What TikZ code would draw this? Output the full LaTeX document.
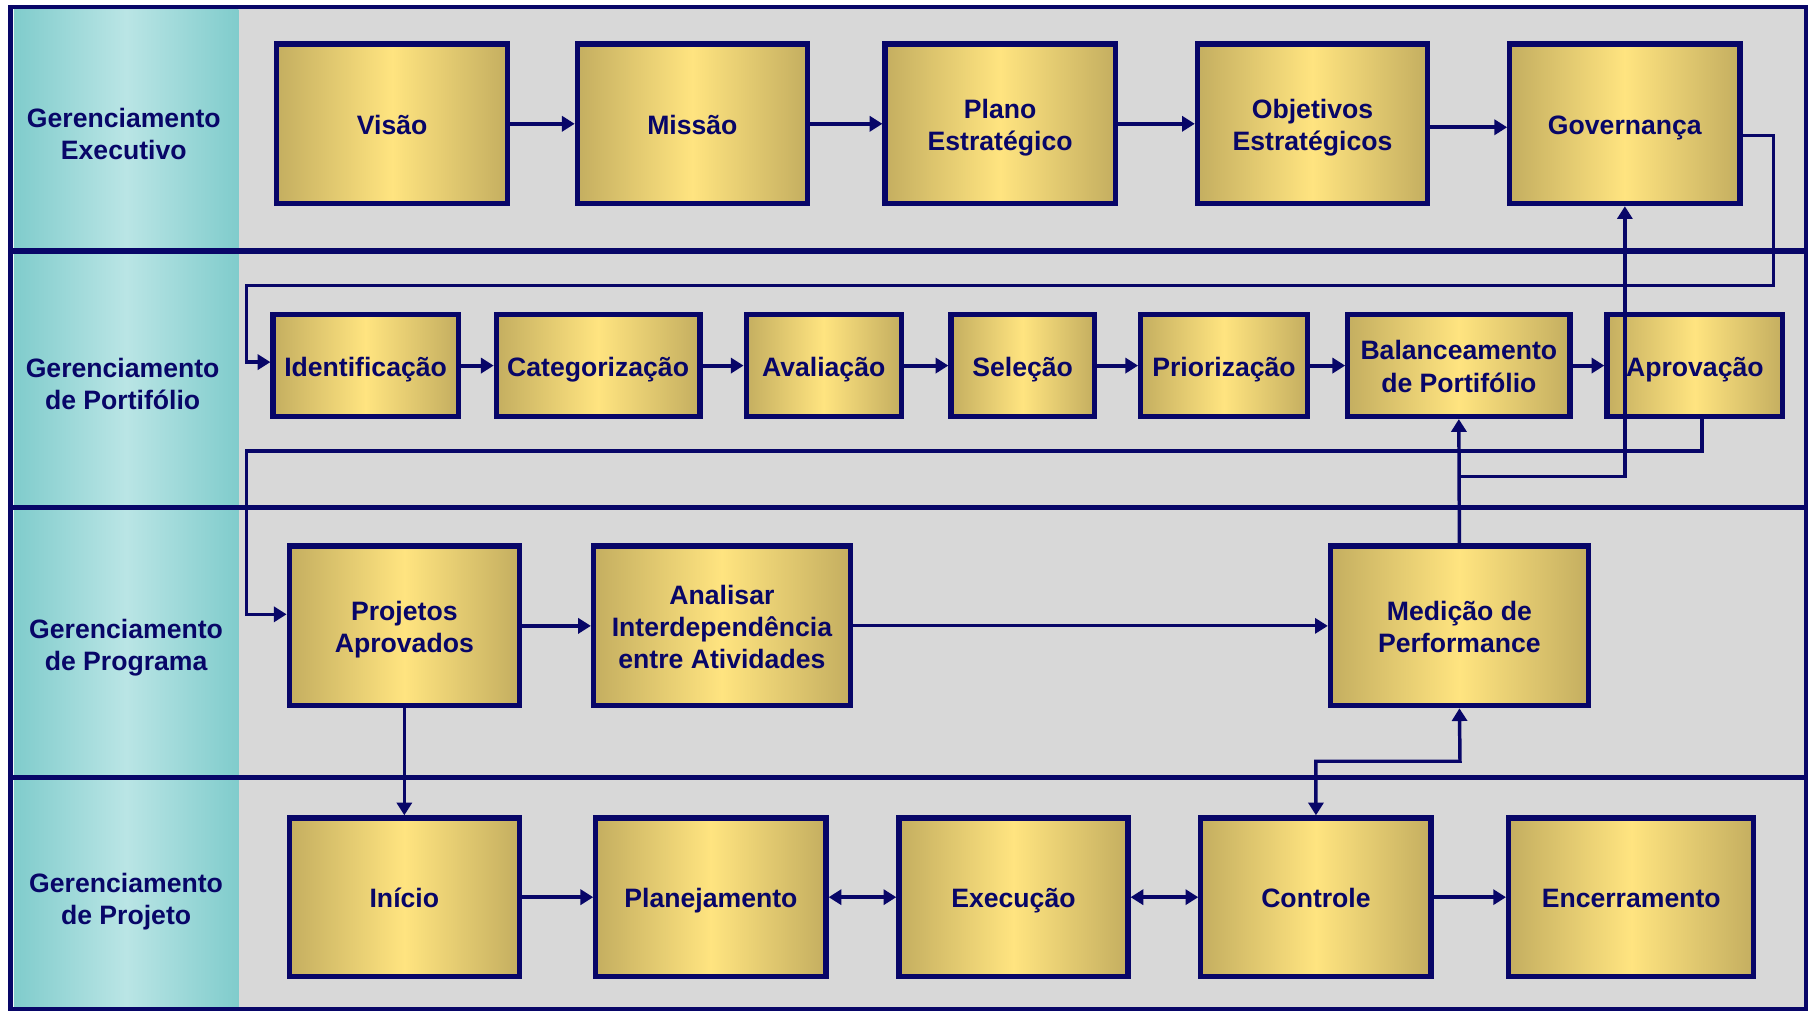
\documentclass[tikz,border=0pt]{standalone}
\usepackage{fontspec}
\setmainfont{Liberation Sans}
\usetikzlibrary{arrows.meta}

\definecolor{navy}{RGB}{8,6,104}
\definecolor{goldedge}{RGB}{196,174,96}
\definecolor{goldmid}{RGB}{255,228,128}
\definecolor{tealedge}{RGB}{128,204,204}
\definecolor{tealmid}{RGB}{186,229,229}
\definecolor{lanegray}{RGB}{216,216,216}

% box captions: uniform line struts, set a little below the geometric centre
\newcommand\boxcaption[1]{\raisebox{-3.5pt}[\height][\depth]{\begin{tabular}{@{}c@{}}#1\end{tabular}}}

\tikzset{
  stepbox/.style={draw=navy, line width=4.5pt, inner sep=0pt, align=center,
    text=navy, left color=goldedge, right color=goldedge, middle color=goldmid},
  lanelabel/.style={text=navy, align=center, inner sep=0pt},
  sep/.style={draw=navy, line width=4.5pt},
  conn/.style={draw=navy, line width=3.5pt, -{Triangle[length=11pt,width=13pt]}},
  biconn/.style={draw=navy, line width=3.5pt,
    {Triangle[length=11pt,width=13pt]}-{Triangle[length=11pt,width=13pt]}},
}

\begin{document}
\begin{tikzpicture}[x=1pt, y=-1pt, font=\bfseries\fontsize{23}{28}\selectfont]
\useasboundingbox (0,0) rectangle (1568,876);

% background: label column and lanes
\fill[lanegray] (206,8) rectangle (1561,872);
\shade[left color=tealedge, right color=tealedge, middle color=tealmid] (12,8) rectangle (206,872);

% outer frame and lane separators
\draw[navy, line width=4pt] (9,6) rectangle (1561,872);
\draw[sep] (11,217) -- (1563,217);
\draw[sep] (11,439) -- (1563,439);
\draw[sep] (11,672) -- (1563,672);

% lane labels
\node[lanelabel] (l1) at (107,116) {Gerenciamento\\Executivo};
\node[lanelabel] (l2) at (106,332) {Gerenciamento\\de Portifólio};
\node[lanelabel] (l3) at (109,560) {Gerenciamento\\de Programa};
\node[lanelabel] (l4) at (109,779.5) {Gerenciamento\\de Projeto};

% executive lane
\node[stepbox, minimum width=200pt, minimum height=138pt] (vis) at (339,107) {\boxcaption{Visão}};
\node[stepbox, minimum width=199pt, minimum height=138pt] (mis) at (598.5,107) {\boxcaption{Missão}};
\node[stepbox, minimum width=199pt, minimum height=138pt] (pla) at (864.5,107) {\boxcaption{Plano\\Estratégico}};
\node[stepbox, minimum width=199pt, minimum height=138pt] (obj) at (1134.5,107) {\boxcaption{Objetivos\\Estratégicos}};
\node[stepbox, minimum width=199pt, minimum height=138pt] (gov) at (1404.5,107) {\boxcaption{Governança}};

% portfolio lane
\node[stepbox, minimum width=160pt, minimum height=88pt] (ide) at (316,316) {\boxcaption{Identificação}};
\node[stepbox, minimum width=176pt, minimum height=88pt] (cat) at (517,316) {\boxcaption{Categorização}};
\node[stepbox, minimum width=134pt, minimum height=88pt] (ava) at (712,316) {\boxcaption{Avaliação}};
\node[stepbox, minimum width=124pt, minimum height=88pt] (sel) at (884,316) {\boxcaption{Seleção}};
\node[stepbox, minimum width=144pt, minimum height=88pt] (pri) at (1058,316) {\boxcaption{Priorização}};
\node[stepbox, minimum width=192pt, minimum height=88pt] (bal) at (1261,316) {\boxcaption{Balanceamento\\de Portifólio}};
\node[stepbox, minimum width=152pt, minimum height=88pt] (apr) at (1465,316) {\boxcaption{Aprovação}};

% program lane
\node[stepbox, minimum width=199pt, minimum height=138pt] (prj) at (349.5,541) {\boxcaption{Projetos\\Aprovados}};
\node[stepbox, minimum width=222pt, minimum height=138pt] (ana) at (624,541) {\boxcaption{Analisar\\Interdependência\\entre Atividades}};
\node[stepbox, minimum width=223pt, minimum height=138pt] (med) at (1261.5,541) {\boxcaption{Medição de\\Performance}};

% project lane
\node[stepbox, minimum width=199pt, minimum height=137pt] (ini) at (349.5,775.5) {\boxcaption{Início}};
\node[stepbox, minimum width=199pt, minimum height=137pt] (pln) at (614.5,775.5) {\boxcaption{Planejamento}};
\node[stepbox, minimum width=198pt, minimum height=137pt] (exe) at (876,775.5) {\boxcaption{Execução}};
\node[stepbox, minimum width=199pt, minimum height=137pt] (ctl) at (1137.5,775.5) {\boxcaption{Controle}};
\node[stepbox, minimum width=212pt, minimum height=137pt] (enc) at (1410,775.5) {\boxcaption{Encerramento}};

% routing points
\coordinate (gR) at (1533,247);
\coordinate (gL) at (213,247);
\coordinate (aL) at (213,390);
\coordinate (mJ) at (1262,412);
\coordinate (cJ) at (1262,658);

% executive flow
\draw[conn] (vis) -- (mis);
\draw[conn] (mis) -- (pla);
\draw[conn] (pla) -- (obj);
\draw[conn] ([yshift=-3pt]obj.east) -- ([yshift=-3pt]gov.west);

% portfolio flow
\draw[conn] (ide) -- (cat);
\draw[conn] (cat) -- (ava);
\draw[conn] (ava) -- (sel);
\draw[conn] (sel) -- (pri);
\draw[conn] (pri) -- (bal);
\draw[conn] (bal) -- (apr);

% governance feeds identification
\draw[conn, line width=3pt] ([yshift=-10pt]gov.east) -| (gR) -- (gL) |- ([yshift=3pt]ide.west);

% approval feeds approved projects
\draw[conn, line width=3pt] ([xshift=6pt]apr.south) |- (aL) |- ([yshift=10pt]prj.west);

% program flow
\draw[conn] (prj) -- (ana);
\draw[conn, line width=2.5pt] (ana) -- (med);

% performance measurement feeds back
\draw[conn, line width=3pt] (med.north) -- (bal.south);
\draw[conn, line width=3pt] (mJ) -| (gov.south);

% program to project
\draw[conn, line width=3pt] (prj.south) -- (ini.north);
\draw[biconn, line width=3pt] (ctl.north) |- (cJ) -- (med.south);

% project flow
\draw[conn] (ini) -- (pln);
\draw[biconn] (pln) -- (exe);
\draw[biconn] (exe) -- (ctl);
\draw[conn] (ctl) -- (enc);
\end{tikzpicture}
\end{document}
